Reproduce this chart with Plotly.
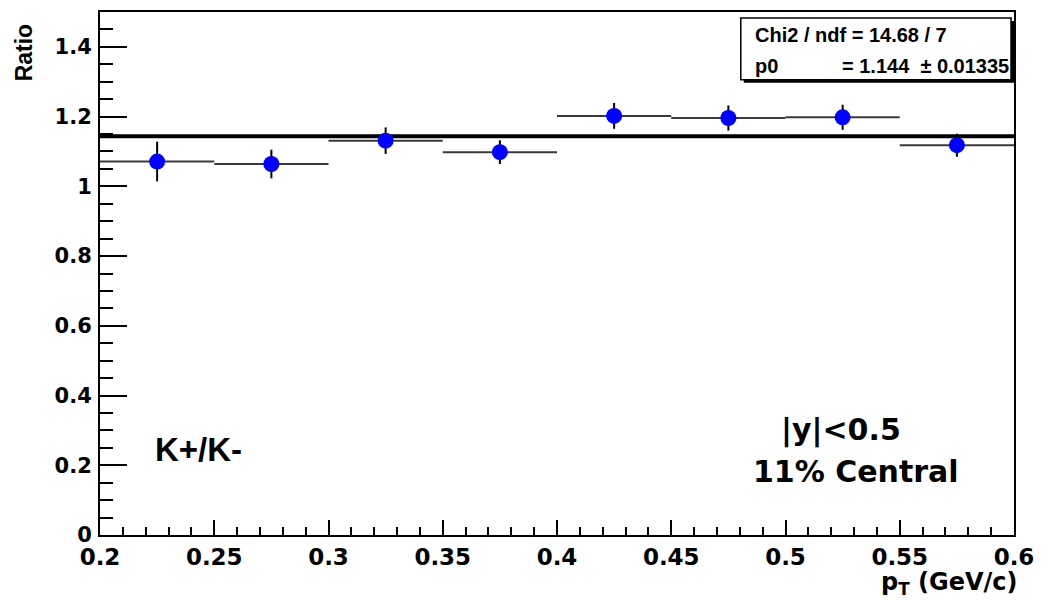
import plotly.graph_objects as go

# ---------------- data ----------------
pt_centers = [0.225, 0.275, 0.325, 0.375, 0.425, 0.475, 0.525, 0.575]
pt_halfwidth = [0.025, 0.025, 0.025, 0.025, 0.025, 0.025, 0.025, 0.025]
ratio = [1.071, 1.064, 1.131, 1.098, 1.202, 1.196, 1.198, 1.118]
ratio_err = [0.057, 0.041, 0.038, 0.034, 0.037, 0.036, 0.036, 0.033]

fit_p0 = 1.144
fit_p0_err = 0.01335
chi2 = 14.68
ndf = 7
fit_range = [0.2, 0.6]

x_range = [0.2, 0.6]
y_range = [0.0, 1.5]

# ---------------- layout geometry ----------------
W, H = 1044, 600
L, R, T, B = 100, 24, 10, 65
PW, PH = W - L - R, H - T - B


def px(xp):
    return (xp - L) / PW


def py(yp):
    return (H - B - yp) / PH


fig = go.Figure()

# fit line
fig.add_trace(go.Scatter(
    x=fit_range, y=[fit_p0, fit_p0], mode="lines",
    line=dict(color="black", width=4), showlegend=False, hoverinfo="skip",
    cliponaxis=True,
))

# data points
fig.add_trace(go.Scatter(
    x=pt_centers, y=ratio, mode="markers",
    marker=dict(color="#0000ff", size=16, line=dict(width=0)),
    error_x=dict(type="data", array=pt_halfwidth, symmetric=True,
                 color="#3a3a3a", thickness=2, width=0),
    error_y=dict(type="data", array=ratio_err, symmetric=True,
                 color="black", thickness=2, width=0),
    showlegend=False,
))

tickfont_x = dict(family="DejaVu Sans", size=23, color="black", weight="bold")
tickfont_y = dict(family="DejaVu Sans", size=21, color="black", weight="bold")

fig.update_xaxes(
    range=x_range, tick0=0.2, dtick=0.05, ticks="inside", ticklen=15,
    tickwidth=1.5, tickcolor="black", showline=True, linecolor="black",
    linewidth=2, mirror=True, showgrid=False, zeroline=False,
    tickfont=tickfont_x,
    minor=dict(ticks="inside", ticklen=8, dtick=0.01, tickwidth=1.5,
               tickcolor="black", showgrid=False),
)
fig.update_yaxes(
    range=y_range, tick0=0, dtick=0.2, ticks="inside", ticklen=27,
    tickwidth=1.5, tickcolor="black", showline=True, linecolor="black",
    linewidth=2, mirror=True, showgrid=False, zeroline=False,
    tickfont=tickfont_y, ticklabelstandoff=2,
    minor=dict(ticks="inside", ticklen=13, dtick=0.05, tickwidth=1.5,
               tickcolor="black", showgrid=False),
)

# stats box (shadow + box)
shapes = [
    dict(type="rect", xref="paper", yref="paper",
         x0=px(748), x1=px(1020), y0=py(81), y1=py(19),
         fillcolor="black", line=dict(width=0), layer="above"),
    dict(type="rect", xref="paper", yref="paper",
         x0=px(745), x1=px(1017), y0=py(78), y1=py(16),
         fillcolor="white", line=dict(color="black", width=1.5), layer="above"),
]

stat_font = dict(family="Liberation Sans", size=20, color="black", weight="bold")
big_font_l = dict(family="Liberation Sans", size=33, color="black", weight="bold")
big_font_d = dict(family="DejaVu Sans", size=30, color="black", weight="bold")

annotations = [
    dict(text=f"Chi2 / ndf = {chi2:.2f} / {ndf}", x=px(757), y=py(33),
         xanchor="left", yanchor="middle", font=stat_font),
    dict(text="p0", x=px(757), y=py(64),
         xanchor="left", yanchor="middle", font=stat_font),
    dict(text=f"= {fit_p0:.3f}  \u00b1 {fit_p0_err}", x=px(1017), y=py(64),
         xanchor="right", yanchor="middle", font=stat_font),
    dict(text="K+/K-", x=px(153), y=py(449),
         xanchor="left", yanchor="middle", font=big_font_l),
    dict(text="|y|<0.5", x=px(846), y=py(430),
         xanchor="center", yanchor="middle", font=big_font_d),
    dict(text="11% Central", x=px(861), y=py(471),
         xanchor="center", yanchor="middle", font=big_font_d),
    dict(text="Ratio", x=px(23), y=py(51), textangle=-90,
         xanchor="center", yanchor="middle",
         font=dict(family="Liberation Sans", size=23, color="black", weight="bold")),
    dict(text="p<sub>T</sub> (GeV/c)", x=px(1025), y=py(584),
         xanchor="right", yanchor="middle",
         font=dict(family="DejaVu Sans", size=24, color="black", weight="bold")),
]
for a in annotations:
    a.update(xref="paper", yref="paper", showarrow=False)

fig.update_layout(
    width=W, height=H,
    margin=dict(l=L, r=R, t=T, b=B, pad=0),
    paper_bgcolor="white", plot_bgcolor="white",
    shapes=shapes, annotations=annotations,
    showlegend=False,
)

fig.write_html("out.html")
